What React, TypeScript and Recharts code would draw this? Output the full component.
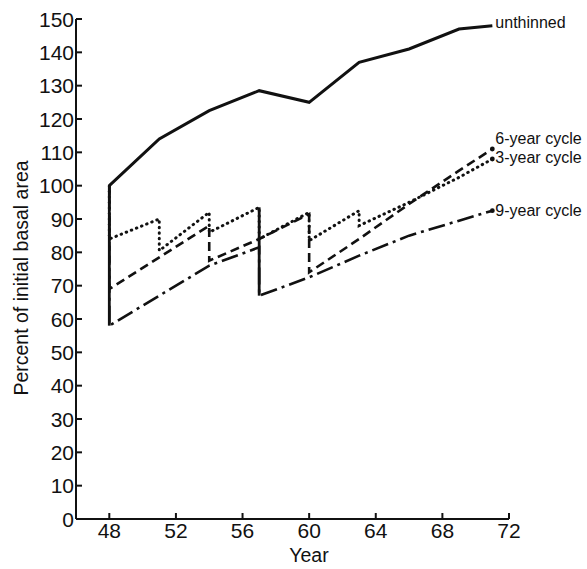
import { Line, LineChart, XAxis, YAxis } from "recharts";

// values (year, percent of initial basal area)
const unthinnedYears = [48, 51, 54, 57, 60, 63, 66, 69, 71];
const unthinnedValues = [100, 114, 122.5, 128.5, 125, 137, 141, 147, 148];

const sixYearYears = [48, 48, 54, 54, 57, 60, 60, 63, 66, 69, 71];
const sixYearValues = [100, 69, 88, 77.5, 84, 91.5, 74, 84, 94.5, 104.5, 111];

const threeYearYears = [48, 48, 51, 51, 54, 54, 57, 57, 60, 60, 63, 63, 66, 69, 71];
const threeYearValues = [100, 84, 90, 80.5, 92, 86, 93.5, 84, 92, 83.5, 92.5, 88, 95, 102.5, 108];

const nineYearYears = [48, 48, 54, 57, 57, 60, 63, 66, 69, 71];
const nineYearValues = [100, 58, 76, 81.5, 67, 72.5, 79, 85, 89.5, 92.5];

// thinning drops where the curves coincide and print as one solid stroke
const solidDropYears = [48, 57];
const solidDropTops = [unthinnedValues[0], threeYearValues[6]];
const solidDropBottoms = [nineYearValues[1], nineYearValues[4]];

const xTicks = [48, 52, 56, 60, 64, 68, 72];
const yTicks = [0, 10, 20, 30, 40, 50, 60, 70, 80, 90, 100, 110, 120, 130, 140, 150];

const ink = "#111";
const font = "'Liberation Sans', Arial, Helvetica, sans-serif";

const toPoints = (years: number[], values: number[]) =>
  years.map((year, i) => ({ year, v: values[i] }));

const series = [
  { name: "unthinned", data: toPoints(unthinnedYears, unthinnedValues), dash: undefined, cap: "butt", width: 3, dy: -3, endDot: false },
  { name: "6-year cycle", data: toPoints(sixYearYears, sixYearValues), dash: "9 5", cap: "butt", width: 2.6, dy: -11, endDot: true },
  { name: "3-year cycle", data: toPoints(threeYearYears, threeYearValues), dash: "0.5 5", cap: "round", width: 3, dy: -2, endDot: true },
  { name: "9-year cycle", data: toPoints(nineYearYears, nineYearValues), dash: "17 5 3 5", cap: "butt", width: 2.6, dy: 0, endDot: true },
];

function YTick({ x, y, payload }: any) {
  return (
    <g>
      <line x1={x} y1={y} x2={x + 6} y2={y} stroke={ink} strokeWidth={2} />
      <text x={x - 2} y={y} dy="0.36em" textAnchor="end" fontSize={21} fontFamily={font} fill={ink}>
        {payload.value}
      </text>
    </g>
  );
}

function XTick({ x, y, payload }: any) {
  return (
    <g>
      <line x1={x} y1={y} x2={x} y2={y - 6} stroke={ink} strokeWidth={2} />
      <text x={x} y={y + 19} textAnchor="middle" fontSize={21} fontFamily={font} fill={ink}>
        {payload.value}
      </text>
    </g>
  );
}

export default function App() {
  return (
    <div style={{ position: "absolute", left: 0, top: 0, width: 587, height: 569, background: "#fff" }}>
      <LineChart width={587} height={569} margin={{ top: 19, right: 78, bottom: 20, left: 16 }}>
        <XAxis
          dataKey="year"
          type="number"
          domain={[46, 72]}
          ticks={xTicks}
          allowDuplicatedCategory={false}
          axisLine={{ stroke: ink, strokeWidth: 2 }}
          tickLine={false}
          tickSize={0}
          tickMargin={0}
          height={30}
          tick={<XTick />}
        />
        <YAxis
          type="number"
          domain={[0, 150]}
          ticks={yTicks}
          axisLine={{ stroke: ink, strokeWidth: 2 }}
          tickLine={false}
          tickSize={0}
          tickMargin={0}
          width={60}
          tick={<YTick />}
        />
        {solidDropYears.map((year, i) => (
          <Line
            key={"drop" + year}
            data={[
              { year, v: solidDropTops[i] },
              { year, v: solidDropBottoms[i] },
            ]}
            dataKey="v"
            type="linear"
            stroke={ink}
            strokeWidth={2.8}
            dot={false}
            activeDot={false}
            isAnimationActive={false}
          />
        ))}
        {series.map((s) => {
          const last = s.data.length - 1;
          return (
            <Line
              key={s.name}
              data={s.data}
              dataKey="v"
              type="linear"
              stroke={ink}
              strokeWidth={s.width}
              strokeDasharray={s.dash}
              strokeLinecap={s.cap as any}
              isAnimationActive={false}
              activeDot={false}
              dot={(p: any) =>
                s.endDot && p.index === last ? (
                  <circle key={p.index} cx={p.cx} cy={p.cy} r={2.4} fill={ink} />
                ) : (
                  <g key={p.index} />
                )
              }
              label={(p: any) =>
                p.index === last ? (
                  <text key={p.index} x={p.x + 3} y={p.y + s.dy} dy="0.36em" fontSize={16} fontFamily={font} fill={ink}>
                    {s.name}
                  </text>
                ) : (
                  <g key={p.index} />
                )
              }
            />
          );
        })}
      </LineChart>
      <div
        style={{
          position: "absolute",
          left: 21,
          top: 278,
          transform: "translate(-50%, -50%) rotate(-90deg)",
          whiteSpace: "nowrap",
          fontFamily: font,
          fontSize: 19.5,
          color: ink,
        }}
      >
        Percent of initial basal area
      </div>
      <div
        style={{
          position: "absolute",
          left: 309,
          top: 555,
          transform: "translate(-50%, -50%)",
          fontFamily: font,
          fontSize: 19.5,
          color: ink,
        }}
      >
        Year
      </div>
    </div>
  );
}
